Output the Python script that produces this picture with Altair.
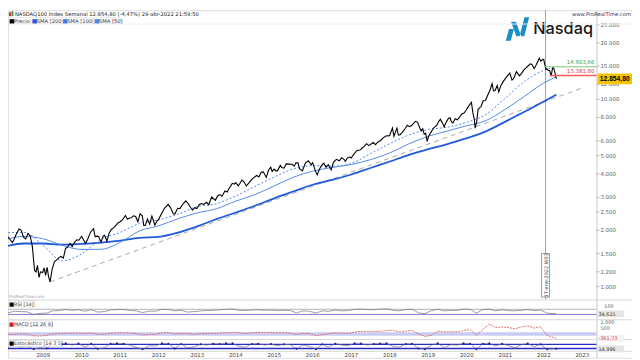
import altair as alt
import pandas as pd

# ---------------- data ----------------
price_dates = [
    "2008-02-01","2008-02-22","2008-03-14","2008-03-28","2008-04-18","2008-05-16","2008-06-06","2008-06-27","2008-07-18","2008-08-08","2008-08-29","2008-09-19","2008-10-10","2008-10-24","2008-11-07","2008-11-21","2008-12-05","2008-12-26",
    "2009-01-09","2009-01-23","2009-02-06","2009-02-20","2009-03-06","2009-03-27","2009-04-17","2009-05-08","2009-05-29","2009-06-19","2009-07-10","2009-07-31","2009-08-21","2009-09-11","2009-10-02","2009-10-23","2009-11-13","2009-12-04","2009-12-31",
    "2010-01-22","2010-02-05","2010-02-26","2010-03-26","2010-04-23","2010-05-07","2010-05-28","2010-06-11","2010-07-02","2010-07-23","2010-08-06","2010-08-27","2010-09-17","2010-10-08","2010-10-29","2010-11-19","2010-12-10","2010-12-31",
    "2011-01-21","2011-02-18","2011-03-11","2011-03-25","2011-04-15","2011-05-06","2011-05-27","2011-06-17","2011-07-08","2011-07-29","2011-08-12","2011-08-26","2011-09-16","2011-10-07","2011-10-28","2011-11-25","2011-12-16","2011-12-30",
    "2012-01-27","2012-02-24","2012-03-30","2012-04-20","2012-05-18","2012-06-01","2012-06-29","2012-07-20","2012-08-17","2012-09-14","2012-10-05","2012-11-16","2012-12-07","2012-12-28",
    "2013-01-18","2013-02-08","2013-03-01","2013-03-29","2013-04-19","2013-05-17","2013-06-21","2013-07-12","2013-08-02","2013-08-23","2013-09-20","2013-10-11","2013-11-01","2013-11-29","2013-12-20","2013-12-31",
    "2014-01-24","2014-02-07","2014-02-28","2014-03-21","2014-04-11","2014-05-02","2014-05-30","2014-06-20","2014-07-18","2014-08-08","2014-08-29","2014-09-19","2014-10-17","2014-11-07","2014-11-28","2014-12-12","2014-12-31",
    "2015-01-16","2015-01-30","2015-02-27","2015-03-13","2015-04-03","2015-04-24","2015-05-22","2015-06-19","2015-07-10","2015-07-24","2015-08-14","2015-08-28","2015-09-25","2015-10-23","2015-11-20","2015-12-18","2015-12-31",
    "2016-01-22","2016-02-12","2016-03-04","2016-03-25","2016-04-15","2016-05-06","2016-05-27","2016-06-24","2016-07-15","2016-08-12","2016-09-09","2016-09-30","2016-10-28","2016-11-04","2016-11-25","2016-12-16","2016-12-30",
    "2017-01-27","2017-02-24","2017-03-24","2017-04-28","2017-05-26","2017-06-16","2017-07-28","2017-08-18","2017-09-08","2017-10-06","2017-10-27","2017-11-24","2017-12-29",
    "2018-01-26","2018-02-09","2018-03-09","2018-03-23","2018-04-06","2018-04-27","2018-05-25","2018-06-15","2018-07-06","2018-07-27","2018-08-31","2018-09-21","2018-10-12","2018-10-26","2018-11-09","2018-11-23","2018-12-07","2018-12-21",
    "2019-01-04","2019-01-25","2019-02-22","2019-03-22","2019-04-12","2019-04-26","2019-05-17","2019-05-31","2019-06-21","2019-07-12","2019-07-26","2019-08-09","2019-08-23","2019-09-13","2019-10-04","2019-10-25","2019-11-15","2019-12-06","2019-12-27",
    "2020-01-17","2020-02-14","2020-02-28","2020-03-13","2020-03-20","2020-04-03","2020-04-17","2020-05-15","2020-06-05","2020-06-26","2020-07-17","2020-08-07","2020-08-28","2020-09-11","2020-09-25","2020-10-16","2020-10-30","2020-11-20","2020-12-11","2020-12-31",
    "2021-01-22","2021-02-12","2021-03-05","2021-03-19","2021-04-16","2021-05-14","2021-06-04","2021-06-25","2021-07-16","2021-08-06","2021-08-27","2021-09-10","2021-10-01","2021-10-22","2021-11-19","2021-12-03","2021-12-24","2021-12-31",
    "2022-01-07","2022-01-21","2022-01-28","2022-02-11","2022-02-25","2022-03-11","2022-03-25","2022-04-01","2022-04-08","2022-04-22","2022-04-29",
]
price_values = [
    1850,1780,1720,1780,1900,2030,2000,1840,1800,1920,1870,1640,1220,1200,1300,1120,1200,1190,
    1260,1150,1270,1130,1060,1250,1360,1390,1430,1450,1420,1600,1630,1700,1640,1720,1780,1770,1860,
    1760,1700,1790,1960,2040,1850,1860,1850,1730,1860,1880,1750,1930,2020,2060,2120,2190,2220,
    2270,2400,2290,2320,2330,2390,2370,2220,2450,2390,2120,2120,2300,2160,2380,2130,2250,2280,
    2450,2620,2750,2650,2450,2440,2620,2610,2760,2870,2780,2560,2640,2610,
    2740,2780,2750,2820,2740,3010,2890,3050,3100,3040,3240,3200,3360,3560,3530,3590,
    3450,3540,3710,3620,3450,3560,3730,3820,3920,3850,4080,4100,3830,4180,4340,4120,4240,
    4150,4150,4440,4320,4290,4520,4510,4500,4400,4580,4580,4260,4150,4570,4700,4470,4590,
    4200,3950,4230,4440,4560,4340,4480,4200,4610,4780,4700,4880,4750,4660,4870,4920,4860,
    5110,5330,5360,5580,5800,5660,5880,5730,5900,6030,6210,6370,6400,
    7020,6350,7020,6450,6450,6640,6960,7270,7150,7240,7630,7560,7030,6800,6960,6520,6600,5960,
    6350,6660,7050,7280,7650,7830,7440,7130,7580,7930,7970,7570,7470,7880,7770,8030,8360,8440,8770,
    9170,9620,8460,7800,7020,7530,8840,9150,9820,9850,10500,11140,12110,11090,11150,11850,10940,11870,12430,12890,
    13370,13800,12660,12870,14040,13330,13760,14360,14730,15100,15460,15350,14570,15340,16570,16000,16340,16320,
    15600,14440,14540,14250,14240,13300,14730,14850,14430,13450,12854.8,
]

sma_dates = ["2008-02-01", "2008-07-01"] + [f"{y}-{m}-01" for y in range(2009, 2022) for m in ("01", "07")] + ["2022-01-01", "2022-04-29"]
sma200 = [1650,1700,1700,1676,1690,1719,1763,1823,1846,1944,2100,2294,2488,2703,2963,3221,3500,3713,3969,4300,4656,5056,5419,5769,6200,6744,7600,8575,9725,10600]
sma100 = [1800,1855,1800,1663,1580,1583,1725,1983,2113,2305,2475,2605,2863,3100,3450,3838,4138,4325,4488,4763,5175,5788,6350,6775,7225,7700,8850,10375,12225,13200]
sma50 = [1940,1950,1660,1375,1500,1790,1950,2175,2275,2435,2675,2775,3050,3425,3850,4250,4425,4400,4550,5125,5800,6450,6900,7100,7550,8300,10150,12450,14300,15000]

trend_dates = ["2009-03-06", "2023-01-01"]
trend_values = [1060, 11500]

level_dates = ["2022-01-17", "2022-03-01"]
level_values = [14903.66, 13381.80]
level_labels = ["14.903,66", "13.381,80"]
level_line_colors = ["#a9d9a9", "#ff5a5a"]
level_text_colors = ["#3a9a3a", "#e03030"]

marker_date = ["2022-01-17"]
marker_label = ["17-ene-2022 W03"]

last_price = [12854.80]
last_price_label = ["12.854,80"]

y_ticks = [25000, 20000, 15000, 12000, 10000, 8000, 6000, 5000, 4000, 3000, 2500, 2000, 1500, 1200, 1000]
y_tick_labels = [f"{v:,}".replace(",", ".") for v in y_ticks]

years = [str(y) for y in range(2009, 2024)]

ind_dates = [f"{y}-{m:02d}-01" for y in range(2008, 2022) for m in (2, 4, 6, 8, 10, 12)] + ["2022-02-01", "2022-04-29"]
rsi = [42,55,52,50,30,38, 40,58,60,68,62,66, 55,67,48,52,64,68, 68,62,58,44,56,55,
       70,68,58,62,48,52, 58,60,62,66,70,72, 62,60,64,66,62,64, 60,62,60,42,58,55,
       40,58,54,64,58,60, 70,72,68,66,72,74, 62,58,68,70,42,36, 60,70,58,62,60,72,
       70,40,68,72,58,66, 60,58,62,68,60,64, 40,34.615]
macd = [-20,-30,10,-10,-150,-160, -110,10,60,80,90,90, 60,90,-10,-20,60,110, 110,100,40,-80,-30,-20,
        100,130,20,50,60,-30, 40,50,60,80,120,150, 120,60,100,150,120,150, 100,120,90,-30,60,40,
        -150,-40,30,110,90,60, 170,230,220,200,240,290, 330,180,250,300,0,-200, -100,250,180,200,180,300,
        380,-100,380,850,550,600, 550,450,600,700,500,620, -100,-361.73]
stoch = [30,70,40,55,10,30, 20,85,90,95,70,92, 40,90,15,30,90,95, 90,70,35,10,60,55,
         95,90,20,85,30,45, 80,70,90,85,95,96, 50,40,85,90,70,85, 60,80,75,15,70,50,
         10,80,40,90,70,60, 95,92,70,85,94,96, 50,40,85,90,20,8, 70,95,30,75,70,95,
         90,10,90,95,55,90, 60,30,75,92,45,80, 10,14.996]

rsi_levels = [70, 30]
rsi_level_colors = ["#b4b4c4", "#7a7ae0"]
stoch_levels = [80, 20]

# ---------------- frames ----------------
price_df = pd.DataFrame({"date": price_dates, "value": price_values})
sma_df = pd.DataFrame({"date": sma_dates, "sma200": sma200, "sma100": sma100, "sma50": sma50})
trend_df = pd.DataFrame({"date": trend_dates, "value": trend_values})
level_df = pd.DataFrame({"date": level_dates, "value": level_values, "label": level_labels,
                         "lc": level_line_colors, "tc": level_text_colors})
marker_df = pd.DataFrame({"date": marker_date, "label": marker_label})
last_df = pd.DataFrame({"value": last_price, "label": last_price_label})
ytick_df = pd.DataFrame({"value": y_ticks, "label": y_tick_labels})
year_df = pd.DataFrame({"date": [f"{y}-01-01" for y in years], "label": years})
ind_df = pd.DataFrame({"date": ind_dates, "rsi": rsi, "macd": macd, "stoch": stoch})
rsi_lv_df = pd.DataFrame({"v": rsi_levels, "c": rsi_level_colors})
stoch_lv_df = pd.DataFrame({"v": stoch_levels})

# ---------------- scales ----------------
XR = 596
XS = alt.Scale(domain=[alt.DateTime(year=2008, month=2, date=1, utc=True),
                       alt.DateTime(year=2023, month=5, date=15, utc=True)],
               range=[0, XR], nice=False)
YM = alt.Scale(type="log", domain=[1000, 25000], range=[280, 14.7], nice=False)
YR = alt.Scale(domain=[0, 100], range=[312, 299], nice=False, zero=False)
YMA = alt.Scale(domain=[-500, 1000], range=[334, 316], nice=False, zero=False)
YS = alt.Scale(domain=[0, 100], range=[344, 337], nice=False, zero=False)

FONT = "DejaVu Sans"


def X(f="date"):
    return alt.X(f"{f}:T", scale=XS, axis=None)


def Y(f, s):
    return alt.Y(f"{f}:Q", scale=s, axis=None)


def txt(t, x, y, size=6, color="#333333", align="left", weight="normal", font=FONT):
    return alt.Chart(pd.DataFrame({"t": [t]})).mark_text(
        align=align, baseline="middle", fontSize=size, color=color, fontWeight=weight, font=font
    ).encode(x=alt.value(x), y=alt.value(y), text="t:N")


def box(x1, x2, y1, y2, fill="#ffffff", stroke="#d0d0d0"):
    return alt.Chart(pd.DataFrame({"a": [0]})).mark_rect(fill=fill, stroke=stroke, strokeWidth=0.6).encode(
        x=alt.value(x1), x2=alt.value(x2), y=alt.value(y1), y2=alt.value(y2))


def hrule(y, x1=0, x2=632, color="#d8d8d8", w=1):
    return alt.Chart(pd.DataFrame({"a": [0]})).mark_rule(color=color, strokeWidth=w).encode(
        x=alt.value(x1), x2=alt.value(x2), y=alt.value(y))


def vrule(x, y1, y2, color="#d0d0d0", w=1):
    return alt.Chart(pd.DataFrame({"a": [0]})).mark_rule(color=color, strokeWidth=w).encode(
        x=alt.value(x), y=alt.value(y1), y2=alt.value(y2))


layers = []

# frames / separators
layers += [hrule(293.5), hrule(313.5), hrule(333.5), hrule(345.5),
           vrule(XR + 0.5, 0, 352, "#c8c8c8"), vrule(0.5, 14, 352, "#e2e2e2")]

# marker vertical line
layers.append(alt.Chart(marker_df).mark_rule(color="#a0a0a0", strokeWidth=1).encode(
    x=X(), y=alt.value(0), y2=alt.value(293)))

# main panel lines
base_sma = alt.Chart(sma_df)
layers.append(alt.Chart(trend_df).mark_line(color="#a8a8a8", strokeWidth=1, strokeDash=[5, 4]).encode(
    x=X(), y=Y("value", YM)))
layers.append(base_sma.mark_line(color="#1f5ad8", strokeWidth=1.8, interpolate="monotone").encode(
    x=X(), y=Y("sma200", YM)))
layers.append(base_sma.mark_line(color="#3f7de6", strokeWidth=0.9, interpolate="monotone").encode(
    x=X(), y=Y("sma100", YM)))
layers.append(base_sma.mark_line(color="#4a86ee", strokeWidth=1, strokeDash=[2, 2], interpolate="monotone").encode(
    x=X(), y=Y("sma50", YM)))
layers.append(alt.Chart(price_df).mark_line(color="#000000", strokeWidth=1.1).encode(
    x=X(), y=Y("value", YM)))

# levels
layers.append(alt.Chart(level_df).mark_rule(strokeWidth=1.5).encode(
    x=X(), x2=alt.value(XR), y=Y("value", YM), color=alt.Color("lc:N", scale=None)))
layers.append(alt.Chart(level_df).mark_text(align="right", baseline="bottom", dy=-1.5, fontSize=5.5, font=FONT).encode(
    x=alt.value(XR - 2), y=Y("value", YM), text="label:N", color=alt.Color("tc:N", scale=None)))

# right axis ticks/labels
layers.append(alt.Chart(ytick_df).mark_rule(color="#b0b0b0").encode(
    x=alt.value(XR), x2=alt.value(XR + 3), y=Y("value", YM)))
layers.append(alt.Chart(ytick_df).mark_text(align="left", baseline="middle", fontSize=5.5, color="#606060", font=FONT).encode(
    x=alt.value(XR + 4), y=Y("value", YM), text="label:N"))

# last price box
layers.append(alt.Chart(last_df).mark_rule(color="#f5c400", strokeWidth=11).encode(
    x=alt.value(XR + 1), x2=alt.value(632), y=Y("value", YM)))
layers.append(alt.Chart(last_df).mark_text(align="center", baseline="middle", fontSize=6.8, fontWeight="bold",
                                           color="#000000", font="Liberation Sans").encode(
    x=alt.value(614.5), y=Y("value", YM), text="label:N"))

# marker label box (rotated)
layers.append(alt.Chart(marker_df).mark_rule(color="#9a9a9a", strokeWidth=9).encode(
    x=X(), y=alt.value(246), y2=alt.value(291)))
layers.append(alt.Chart(marker_df).mark_rule(color="#ffffff", strokeWidth=7).encode(
    x=X(), y=alt.value(247), y2=alt.value(290)))
layers.append(alt.Chart(marker_df).mark_text(angle=270, align="center", baseline="middle", fontSize=5,
                                             color="#444444", font=FONT).encode(
    x=X(), y=alt.value(268.5), text="label:N"))

# Nasdaq logo
logo_path = ("M-1,1 L-0.58,1 L-0.3,0 L-0.72,0 Z "
             "M-0.55,-0.62 L-0.13,-0.62 L0.32,0.62 L-0.1,0.62 Z "
             "M0.18,0.62 L0.58,0.62 L1,-1 L0.6,-1 Z")
layers.append(alt.Chart(pd.DataFrame({"a": [0]})).mark_point(
    shape=logo_path, filled=True, color="#1a8fc6", opacity=1, size=560, strokeWidth=0).encode(
    x=alt.value(516), y=alt.value(19)))
layers.append(txt("Nasdaq", 532, 19.5, size=16.5, color="#1a1a1a", weight=500, font="Inter"))

# header
layers.append(txt("NASDAQ100 Index Semanal 12.854,80 (-4,47%) 29-abr-2022 21:59:50", 7, 3.5, size=5.3, color="#222222"))
layers.append(alt.Chart(pd.DataFrame({"a": [0]})).mark_rect(color="#d03030").encode(
    x=alt.value(1), x2=alt.value(3), y=alt.value(2), y2=alt.value(6)))
layers.append(alt.Chart(pd.DataFrame({"a": [0]})).mark_rect(color="#30a030").encode(
    x=alt.value(3.5), x2=alt.value(5.5), y=alt.value(1), y2=alt.value(6)))
layers.append(txt("www.ProRealTime.com", 631, 3.5, size=5.3, color="#333366", align="right"))
legend_items = [("Precio", "#000000", 1, 23), ("SMA [200]", "#1f5ad8", 24, 54), ("SMA [100]", "#3f7de6", 55, 86), ("SMA [50]", "#4a86ee", 87, 114)]
for name, col, lx, rx in legend_items:
    layers.append(box(lx - 0.5, rx, 7.5, 13.5, "#ffffff", "#dcdcdc"))
    layers.append(txt("■", lx, 10.5, size=6, color=col))
    layers.append(txt(name, lx + 5, 10.5, size=5.3, color="#333333"))
layers.append(hrule(14, 0, 632, "#eeeeee"))

# watermark
layers.append(txt("ProRealTime.com", 1, 290.5, size=4.2, color="#9a9a9a"))

# RSI panel
layers.append(alt.Chart(rsi_lv_df).mark_rule(strokeWidth=1).encode(
    x=alt.value(0), x2=alt.value(XR), y=Y("v", YR), color=alt.Color("c:N", scale=None)))
layers.append(alt.Chart(ind_df).mark_line(color="#707070", strokeWidth=0.7).encode(x=X(), y=Y("rsi", YR)))
layers.append(box(0.5, 27, 294.5, 300.5))
layers.append(txt("■", 1, 297.5, size=5.5, color="#000000"))
layers.append(txt("RSI [14]", 6, 297.5, size=5, color="#333333"))
layers.append(txt("100", XR + 8, 299.5, size=5, color="#606060"))
rsi_last = pd.DataFrame({"v": [rsi[-1]], "label": ["34,615"]})
layers.append(alt.Chart(rsi_last).mark_rule(color="#e6e6e6", strokeWidth=7).encode(
    x=alt.value(XR + 1), x2=alt.value(624), y=Y("v", YR)))
layers.append(alt.Chart(rsi_last).mark_text(align="left", baseline="middle", fontSize=5, color="#333333", font=FONT).encode(
    x=alt.value(XR + 2), y=Y("v", YR), text="label:N"))

# MACD panel
macd_band = pd.DataFrame({"lo": [-150], "hi": [150]})
layers.append(alt.Chart(macd_band).mark_rect(color="#c9cdf3").encode(
    x=alt.value(0), x2=alt.value(XR), y=Y("lo", YMA), y2="hi:Q"))
layers.append(alt.Chart(ind_df).mark_line(color="#e04a4a", strokeWidth=0.8, strokeDash=[2, 1]).encode(
    x=X(), y=Y("macd", YMA)))
layers.append(box(0.5, 45, 314.5, 320.5))
layers.append(txt("■", 1, 317.5, size=5.5, color="#d02020"))
layers.append(txt("MACD [12 26 9]", 6, 317.5, size=5, color="#333333"))
macd_ticks = pd.DataFrame({"v": [1000, 500], "label": ["1.000", "500"]})
layers.append(alt.Chart(macd_ticks).mark_text(align="left", baseline="middle", fontSize=5, color="#606060", font=FONT).encode(
    x=alt.value(XR + 4), y=Y("v", YMA), text="label:N"))
macd_last = pd.DataFrame({"v": [macd[-1]], "label": ["-361,73"]})
layers.append(alt.Chart(macd_last).mark_rule(color="#f2f2f2", strokeWidth=7).encode(
    x=alt.value(XR + 1), x2=alt.value(624), y=Y("v", YMA)))
layers.append(alt.Chart(macd_last).mark_text(align="left", baseline="middle", fontSize=5, color="#e03030", font=FONT).encode(
    x=alt.value(XR + 2), y=Y("v", YMA), text="label:N"))

# Stochastic panel
layers.append(alt.Chart(stoch_lv_df).mark_rule(color="#2b2bc8", strokeWidth=1.4).encode(
    x=alt.value(0), x2=alt.value(XR), y=Y("v", YS)))
layers.append(alt.Chart(ind_df).mark_line(color="#707070", strokeWidth=0.7).encode(x=X(), y=Y("stoch", YS)))
layers.append(alt.Chart(ind_df).transform_filter("datum.stoch >= 80 || datum.stoch <= 20").mark_point(
    color="#1a1aa0", filled=True, size=4, opacity=1).encode(x=X(), y=Y("stoch", YS)))
layers.append(box(0.5, 54, 334.5, 340.5))
layers.append(txt("■", 1, 337.5, size=5.5, color="#000000"))
layers.append(txt("Estocástico [14 3 5]", 6, 337.5, size=5, color="#333333"))
st_last = pd.DataFrame({"v": [stoch[-1]], "label": ["14,996"]})
layers.append(alt.Chart(st_last).mark_rule(color="#e6e6e6", strokeWidth=7).encode(
    x=alt.value(XR + 1), x2=alt.value(624), y=Y("v", YS)))
layers.append(alt.Chart(st_last).mark_text(align="left", baseline="middle", fontSize=5, color="#333333", font=FONT).encode(
    x=alt.value(XR + 2), y=Y("v", YS), text="label:N"))

# x axis years
layers.append(alt.Chart(year_df).mark_text(align="center", baseline="middle", fontSize=5.5, color="#444444", font=FONT).encode(
    x=X(), y=alt.value(348.8), text="label:N"))

chart = alt.layer(*layers).resolve_scale(y="independent").properties(
    width=632, height=352, autosize=alt.AutoSizeParams(type="none"), padding=0,
    background="#ffffff"
).configure_view(stroke=None).configure(font=FONT)

chart.save("out.html", embed_options={"renderer": "svg", "actions": False})
